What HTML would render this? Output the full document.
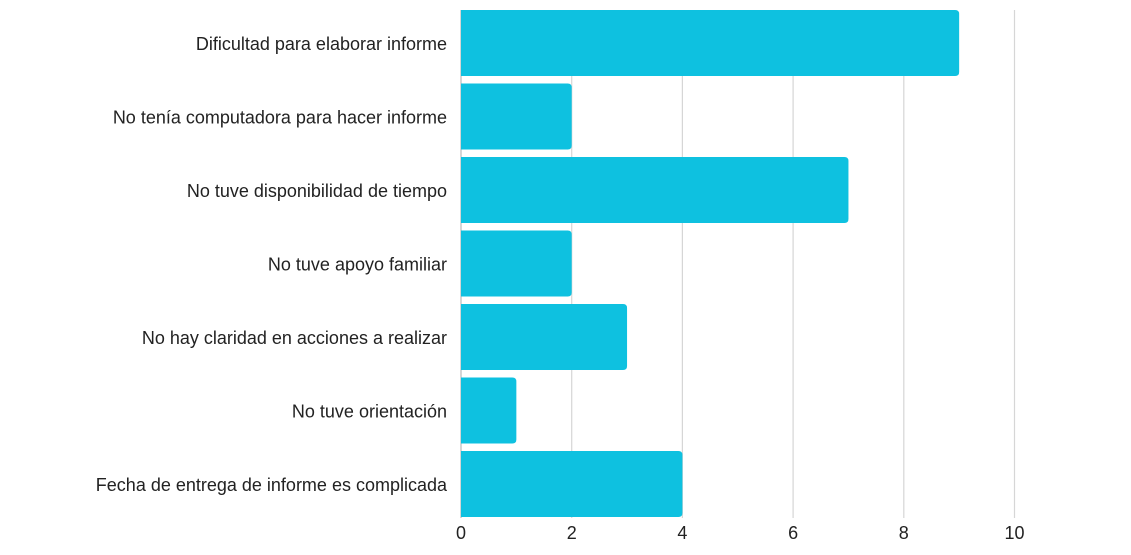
<!DOCTYPE html>
<html><head><meta charset="utf-8"><style>
body{margin:0;background:#fff;}
svg text{font-family:"Liberation Sans",sans-serif;fill:#222;}
</style></head><body>
<svg id="chart" width="1131" height="550" xmlns="http://www.w3.org/2000/svg"></svg>
<script>
const categories=["Dificultad para elaborar informe","No tenía computadora para hacer informe","No tuve disponibilidad de tiempo","No tuve apoyo familiar","No hay claridad en acciones a realizar","No tuve orientación","Fecha de entrega de informe es complicada"];
const values=[9,2,7,2,3,1,4];
const ticks=[0,2,4,6,8,10];
const svg=document.getElementById('chart');
const NS='http://www.w3.org/2000/svg';
const x0=461,unit=55.35,topY=10,step=73.5,bh=66;
const xs=v=>x0+v*unit;
function mk(t,a){const e=document.createElementNS(NS,t);for(const k in a)e.setAttribute(k,a[k]);svg.appendChild(e);return e;}
ticks.forEach(t=>{
 const l=mk('line',{x1:xs(t),x2:xs(t),y1:topY,y2:518,stroke:t===0?'#bbb':'#d6d6d6','stroke-width':1.2});
 
 
 const tx=mk('text',{x:xs(t),y:539,'text-anchor':'middle','font-size':18});
 tx.textContent=t;
 
 
});
categories.forEach((c,i)=>{
 const y=topY+i*step;
 const w=xs(values[i])-x0;
 const p=mk('path',{d:`M${x0},${y}H${x0+w-4}Q${x0+w},${y} ${x0+w},${y+4}V${y+bh-4}Q${x0+w},${y+bh} ${x0+w-4},${y+bh}H${x0}Z`,fill:'#0EC1E0'});
 
 
 const tx=mk('text',{x:447,y:y+bh/2+7,'text-anchor':'end','font-size':18});
 tx.textContent=c;
 
 
});
</script>
</body></html>
